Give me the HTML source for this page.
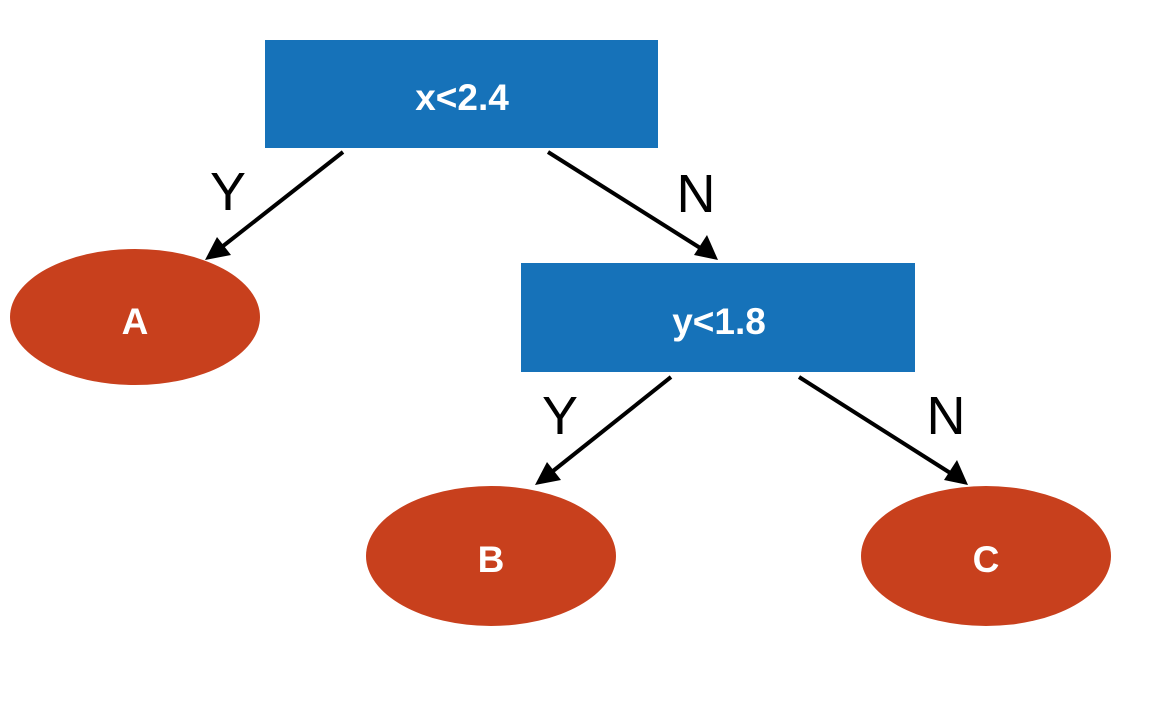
<!DOCTYPE html>
<html><head><meta charset="utf-8"><style>html,body{margin:0;padding:0;background:#fff}</style></head>
<body>
<svg width="1160" height="702" viewBox="0 0 1160 702" xmlns="http://www.w3.org/2000/svg">
<rect x="265" y="40" width="393" height="108" fill="#1672b9"/>
<rect x="521" y="263" width="394" height="109" fill="#1672b9"/>
<ellipse cx="135" cy="317" rx="125" ry="68" fill="#c8401d"/>
<ellipse cx="491" cy="556" rx="125" ry="70" fill="#c8401d"/>
<ellipse cx="986" cy="556" rx="125" ry="70" fill="#c8401d"/>
<g stroke="#000" stroke-width="4" fill="none">
<line x1="343" y1="152" x2="218" y2="250"/>
<line x1="548" y1="152" x2="705" y2="251"/>
<line x1="671" y1="377" x2="548" y2="475"/>
<line x1="799" y1="377" x2="955" y2="476"/>
</g>
<g fill="#000">
<path d="M205,260 L217,237 L231,255 z"/>
<path d="M718,260 L694,255 L707,235 z"/>
<path d="M535,485 L547,462 L561,480 z"/>
<path d="M968,485 L944,480 L957,460 z"/>
</g>
<g font-family="Liberation Sans, sans-serif" fill="#fff" font-weight="bold" font-size="37" text-anchor="middle">
<text x="462" y="110">x&lt;2.4</text>
<text x="719" y="334">y&lt;1.8</text>
<text x="135" y="334">A</text>
<text x="491" y="572">B</text>
<text x="986" y="572">C</text>
</g>
<g font-family="Liberation Sans, sans-serif" fill="#000" font-size="54" text-anchor="middle">
<text x="228" y="210">Y</text>
<text x="696" y="212">N</text>
<text x="560" y="434">Y</text>
<text x="946" y="434">N</text>
</g>
</svg>
</body></html>
